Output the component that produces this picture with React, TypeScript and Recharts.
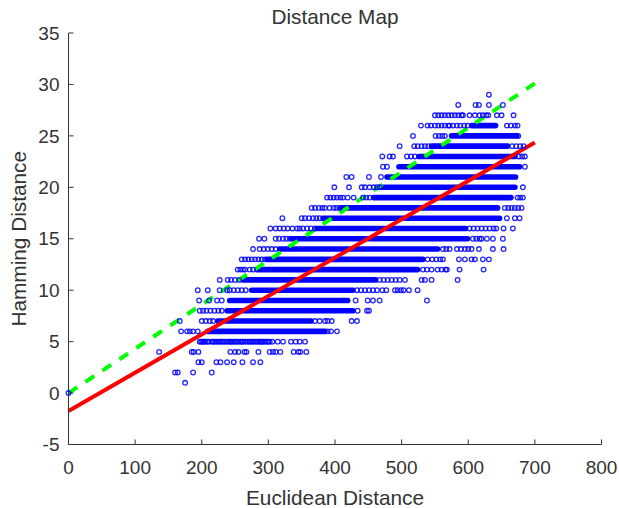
import React from "react";
import { ComposedChart, Line, Scatter, XAxis, YAxis } from "recharts";

const xTicks = [0, 100, 200, 300, 400, 500, 600, 700, 800];
const yTicks = [-5, 0, 5, 10, 15, 20, 25, 30, 35];

const greenFit = [{ x: 0, y: 0 }, { x: 700, y: 30.1 }];
const redFit = [{ x: 0, y: -1.75 }, { x: 700, y: 24.35 }];

// Isolated rings: index in the list is the Hamming distance.
const ringX: number[][] = [
  [0],
  [175],
  [160, 164, 187, 215],
  [195, 200, 222, 228, 238, 248, 261, 277, 288],
  [136, 185, 188, 195, 243, 250, 255, 264, 267, 285, 302, 307, 311, 318, 338, 345, 348, 357],
  [197, 199, 201, 203, 205, 208, 210, 215, 217, 219, 222, 225, 227, 230, 232, 235, 238, 241, 243, 245, 247, 250, 252, 255, 258, 260, 262, 265, 268, 271, 273, 276, 278, 281, 283, 286, 288, 290, 292, 295, 298, 300, 302, 306, 314, 322, 334, 341, 347, 355],
  [169, 178, 182, 187, 194, 389, 394, 403],
  [167, 200, 206, 212, 217, 370, 377, 385, 389, 395, 425, 433],
  [197, 202, 207, 213, 219, 225, 230, 434, 448, 451],
  [196, 211, 223, 230, 431, 449, 457, 467, 538],
  [194, 209, 227, 238, 242, 248, 254, 260, 266, 433, 439, 445, 451, 457, 463, 471, 477, 490, 494, 499, 503, 511, 524],
  [227, 239, 244, 250, 256, 467, 473, 479, 485, 491, 497, 505, 530, 535, 545, 584],
  [254, 258, 262, 265, 272, 277, 532, 538, 545, 554, 560, 566, 568, 587, 623],
  [260, 265, 270, 275, 280, 285, 290, 295, 539, 546, 552, 558, 562, 586, 595, 605, 610, 622, 631],
  [277, 287, 293, 299, 305, 311, 562, 567, 572, 583, 589, 595, 600, 605, 616, 637, 653],
  [286, 294, 311, 316, 322, 327, 332, 607, 612, 617, 620, 628, 637, 652],
  [303, 311, 317, 323, 329, 336, 343, 347, 352, 358, 364, 370, 602, 608, 614, 620, 626, 632, 638, 642, 653, 667],
  [321, 350, 355, 361, 367, 372, 377, 658, 670, 677],
  [365, 370, 376, 381, 385, 392, 398, 402, 407, 655, 660, 665, 670, 675, 680],
  [388, 393, 398, 403, 408, 412, 419, 428, 442, 447, 452, 674, 678, 682],
  [399, 421, 440, 445, 452, 458, 463, 467, 682],
  [417, 425, 451, 469],
  [472, 478, 685],
  [471, 482, 487, 508, 514, 520, 676, 681, 685],
  [497, 519, 524, 530, 535, 540, 666, 672, 678, 683],
  [517, 551, 556, 561, 565, 675],
  [529, 539, 544, 550, 555, 560, 565, 570, 572, 577, 583, 588, 594, 599, 658, 664, 670, 674],
  [550, 555, 560, 565, 570, 575, 580, 585, 590, 592, 602, 610, 617, 622, 627, 630, 643, 650, 668],
  [585, 611, 616, 631, 652],
  [631],
];

// Rows so dense the rings merge into a solid run.
const runRow = [6, 7, 8, 9, 10, 11, 12, 13, 14, 15, 16, 17, 18, 19, 20, 21, 22, 23, 24, 25, 26];
const runStart = [209, 224, 238, 242, 275, 262, 283, 298, 317, 335, 373, 382, 410, 458, 470, 478, 496, 526, 545, 575, 605];
const runEnd = [385, 364, 427, 419, 427, 461, 524, 532, 554, 599, 596, 647, 644, 664, 670, 671, 677, 670, 659, 673, 641];

const rings = ringX.flatMap((xs, y) => xs.map((x) => ({ x, y })));
const runs = runRow.map((y, i) => [
  { x: runStart[i], y },
  { x: runEnd[i], y },
]);

const INK = "#333333";
const FONT = "'Liberation Sans', Arial, sans-serif";

const Ring = (props: any) => (
  <circle cx={props.cx} cy={props.cy} r={2.3} fill="none" stroke="#0000ff" strokeWidth={1.3} strokeOpacity={0.85} />
);

export default function App() {
  return (
    <div style={{ position: "absolute", left: 0, top: 0, width: 619, height: 508, background: "#fff" }}>
      <ComposedChart width={619} height={508} margin={{ top: 33, right: 17.5, bottom: 0, left: 0 }}>
        <XAxis
          type="number"
          dataKey="x"
          domain={[0, 800]}
          ticks={xTicks}
          interval={0}
          height={63.5}
          tickSize={-5}
          tickMargin={21}
          stroke={INK}
          tick={{ fill: INK, fontSize: 19, fontFamily: FONT }}
          tickLine={{ stroke: INK }}
          label={{ value: "Euclidean Distance", position: "insideBottom", offset: 3, fill: INK, fontSize: 20.8, fontFamily: FONT }}
        />
        <YAxis
          type="number"
          dataKey="y"
          domain={[-5, 35]}
          ticks={yTicks}
          interval={0}
          width={68.5}
          tickSize={-5}
          tickMargin={14}
          stroke={INK}
          tick={{ fill: INK, fontSize: 19, fontFamily: FONT }}
          tickLine={{ stroke: INK }}
          label={{ value: "Hamming Distance", angle: -90, position: "insideLeft", offset: 19, style: { textAnchor: "middle" }, fill: INK, fontSize: 20.8, fontFamily: FONT }}
        />
        {runs.map((run, i) => (
          <Line key={i} data={run} dataKey="y" type="linear" stroke="#0000ff" strokeWidth={5.6} strokeLinecap="round" dot={false} activeDot={false} isAnimationActive={false} legendType="none" />
        ))}
        <Scatter data={rings} dataKey="y" shape={Ring} isAnimationActive={false} />
        <Line data={greenFit} dataKey="y" type="linear" stroke="#00ff00" strokeWidth={4} strokeDasharray="10.5 9.85" dot={false} activeDot={false} isAnimationActive={false} />
        <Line data={redFit} dataKey="y" type="linear" stroke="#ff0000" strokeWidth={4} dot={false} activeDot={false} isAnimationActive={false} />
        <text x={335} y={24} textAnchor="middle" fill={INK} fontSize={20.8} fontFamily={FONT}>Distance Map</text>
      </ComposedChart>
    </div>
  );
}
